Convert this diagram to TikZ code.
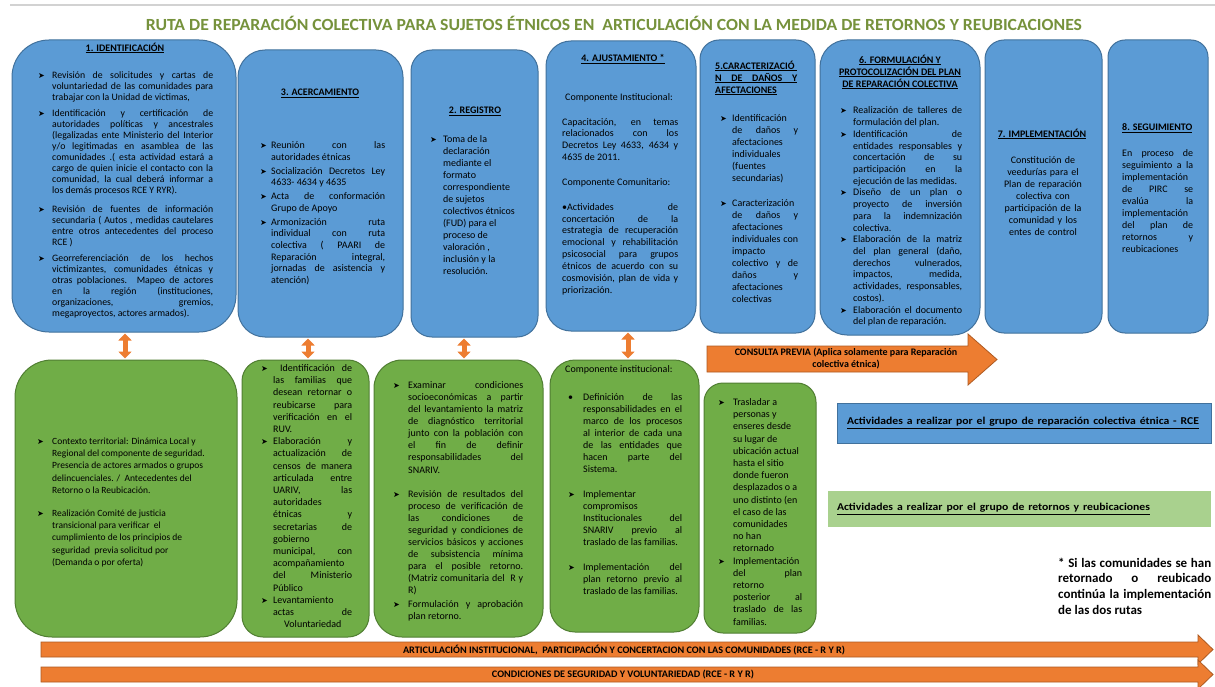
\documentclass[tikz,border=0pt]{standalone}
\usepackage{fontspec}
\usepackage{graphicx}
\setmainfont{Carlito}
\newfontfamily\dvfont{DejaVu Sans}
\usetikzlibrary{fit,arrows.meta}
\definecolor{blueF}{RGB}{91,155,213}
\definecolor{blueD}{RGB}{65,113,156}
\definecolor{greenF}{RGB}{112,173,71}
\definecolor{greenD}{RGB}{80,126,50}
\definecolor{orangeF}{RGB}{237,125,49}
\definecolor{orangeD}{RGB}{174,90,33}
\definecolor{lgreen}{RGB}{169,209,142}
\definecolor{titleG}{RGB}{118,146,60}
\newlength\bulind
\newcommand\brk{\linebreak}
\newcommand\strt{\rule{0pt}{9pt}}
\newcommand\pstart{\noindent\strt}
\newcommand\ulin[1]{\underline{#1}}
\newcommand\mkbul[2]{\par\vspace{#2}\noindent\hangindent=\bulind\hangafter=1\makebox[\bulind][l]{\strt#1}\ignorespaces}
\newcommand\bul[1][0pt]{\mkbul{{\dvfont\fontsize{8}{8}\selectfont ➤}}{#1}}
\newcommand\dotbul[1][0pt]{\mkbul{•}{#1}}
\AtBeginDocument{\tolerance=10000 \hbadness=10000 \hfuzz=6pt \hyphenpenalty=10000 \exhyphenpenalty=10000}
\begin{document}
\begin{tikzpicture}[x=1pt,y=-1pt,
  bluebox/.style={draw=blueD,fill=blueF,line width=1pt,inner sep=0pt},
  greenbox/.style={draw=greenD,fill=greenF,line width=1pt,inner sep=0pt},
  txt/.style={anchor=north west,inner sep=0pt,align=justify,font=\fontsize{10}{11}\selectfont},
  hd/.style={inner sep=0pt,font=\fontsize{10}{12}\selectfont\bfseries},
  dbl/.style={draw=orangeF,line width=5pt,{Triangle[width=13pt,length=7pt]}-{Triangle[width=13pt,length=7pt]},shorten <=1pt,shorten >=1pt},
  blockarrow/.style={draw=orangeD,fill=orangeF,line width=0.8pt},
  legbox/.style={inner ysep=0pt,line width=0.8pt,align=left,font=\fontsize{10.5}{12}\selectfont\bfseries},
]
\useasboundingbox (0,0) rectangle (1215,687);
\fill[white] (0,0) rectangle (1215,687);
\draw[gray!35,line width=1.5pt] (10,5) -- (1215,5);
\node[text=titleG,font=\fontsize{17}{17}\selectfont\bfseries,inner sep=0pt] (title) at (614,23) {\resizebox{936pt}{\height}{RUTA DE REPARACIÓN COLECTIVA PARA SUJETOS ÉTNICOS EN\ \ ARTICULACIÓN CON LA MEDIDA DE RETORNOS Y REUBICACIONES}};

% ---------- top blue boxes
\node[bluebox,rounded corners=37pt,fit={(12,40)(236,332)}] (b1) {};
\node[bluebox,rounded corners=27pt,fit={(238,50)(403,337)}] (b3) {};
\node[bluebox,rounded corners=21pt,fit={(411,50)(538,337)}] (b2) {};
\node[bluebox,rounded corners=25pt,fit={(546,41)(696,331)}] (b4) {};
\node[bluebox,rounded corners=19pt,fit={(700,40)(815,333)}] (b5) {};
\node[bluebox,rounded corners=27pt,fit={(820,40)(980,335)}] (b6) {};
\node[bluebox,rounded corners=19pt,fit={(985,40)(1102,333)}] (b7) {};
\node[bluebox,rounded corners=17pt,fit={(1108,40)(1208,333)}] (b8) {};

% ---------- bottom green boxes
\node[greenbox,rounded corners=37pt,fit={(15,360)(237,637)}] (g1) {};
\node[greenbox,rounded corners=21pt,fit={(242,360)(369,637)}] (g2) {};
\node[greenbox,rounded corners=28pt,fit={(374,360)(543,637)}] (g3) {};
\node[greenbox,rounded corners=25pt,fit={(550,360)(699,632)}] (g4) {};
\node[greenbox,rounded corners=19pt,fit={(704,383)(816,633)}] (g5) {};

% ---------- double arrows
\draw[dbl] (b1.south -| 125,0) -- (g1.north -| 125,0);
\draw[dbl] (b3.south -| 308,0) -- (g2.north -| 308,0);
\draw[dbl] (b2.south -| 464,0) -- (g3.north -| 464,0);
\draw[dbl] (b4.south -| 628,0) -- (g4.north -| 628,0);

% ---------- consulta previa arrow
\draw[blockarrow] (707,346) -- (968,346) -- (968,334) -- (997,359.5) -- (968,385) -- (968,372) -- (707,372) -- cycle;
\node[hd,align=center] (cp) at (846,359) {CONSULTA PREVIA (Aplica solamente para Reparación\\colectiva étnica)};

% ---------- bottom arrows
\draw[blockarrow] (41,642) -- (1198,642) -- (1198,635) -- (1213,649.5) -- (1198,664) -- (1198,657) -- (41,657) -- cycle;
\draw[blockarrow] (41,667) -- (1198,667) -- (1198,660) -- (1213,674.5) -- (1198,689) -- (1198,682) -- (41,682) -- cycle;
\node[inner sep=0pt,font=\fontsize{10}{10}\selectfont\bfseries] (ar1) at (624,650) {\resizebox{442pt}{\height}{ARTICULACIÓN INSTITUCIONAL,\ \ PARTICIPACIÓN Y CONCERTACION CON LAS COMUNIDADES (RCE - R Y R)}};
\node[inner sep=0pt,font=\fontsize{10}{10}\selectfont\bfseries] (ar2) at (623,675) {\resizebox{262pt}{\height}{CONDICIONES DE SEGURIDAD Y VOLUNTARIEDAD (RCE - R Y R)}};

% ---------- B1
\node[hd] (h1) at (125,48) {\ulin{1. IDENTIFICACIÓN}};
\node[txt,text width=175pt,font=\fontsize{9.8}{11}\selectfont] (t1) at (38,67) {\setlength\bulind{14pt}%
\bul Revisión de solicitudes y cartas de\brk voluntariedad de las comunidades para\brk trabajar con la Unidad de victimas,
\bul[5pt] Identificación y certificación de\brk autoridades políticas y ancestrales\brk (legalizadas ente Ministerio del Interior\brk y/o legitimadas en asamblea de las\brk comunidades .( esta actividad estará a\brk cargo de quien inicie el contacto con la\brk comunidad, la cual deberá informar a\brk los demás procesos RCE Y RYR).
\bul[8pt] Revisión de fuentes de información\brk secundaria ( Autos , medidas cautelares\brk entre otros antecedentes del proceso\brk RCE )
\bul[5pt] Georreferenciación de los hechos\brk victimizantes, comunidades étnicas y\brk otras poblaciones. Mapeo de actores\brk en la región (instituciones,\brk organizaciones, gremios,\brk megaproyectos, actores armados).\par};

% ---------- B3
\node[hd] (h3) at (320,93) {\ulin{3. ACERCAMIENTO}};
\node[txt,text width=125pt,font=\fontsize{10}{11.7}\selectfont] (t3) at (260,137) {\setlength\bulind{11pt}%
\bul Reunión con las\brk autoridades étnicas
\bul[2pt] Socialización Decretos Ley\brk 4633- 4634 y 4635
\bul[2pt] Acta de conformación\brk Grupo de Apoyo
\bul[2pt] Armonización ruta\brk individual con ruta\brk colectiva ( PAARI de\brk Reparación integral,\brk jornadas de asistencia y\brk atención)\par};

% ---------- B2
\node[hd] (h2) at (475,111) {\ulin{2. REGISTRO}};
\node[txt,text width=92pt,font=\fontsize{10}{12}\selectfont] (t2) at (430,130) {\setlength\bulind{13pt}%
\bul Toma de la\newline declaración\newline mediante el\newline formato\newline correspondiente\newline de sujetos\newline colectivos étnicos\newline (FUD) para el\newline proceso de\newline valoración ,\newline inclusión y la\newline resolución.\par};

% ---------- B4
\node[hd] (h4) at (623,59) {\ulin{4. AJUSTAMIENTO *}};
\node[inner sep=0pt,font=\fontsize{10}{12}\selectfont] (t4a) at (619,98) {Componente Institucional:};
\node[txt,text width=116pt,font=\fontsize{10}{11.7}\selectfont] (t4b) at (562,116) {\pstart Capacitación, en temas\brk relacionados con los\brk Decretos Ley 4633, 4634 y\brk 4635 de 2011.\par};
\node[inner sep=0pt,anchor=west,font=\fontsize{10}{12}\selectfont] (t4c) at (562,183) {Componente Comunitario:};
\node[txt,text width=116pt,font=\fontsize{10}{11.86}\selectfont] (t4d) at (562,201) {\pstart •Actividades de\brk concertación de la\brk estrategia de recuperación\brk emocional y rehabilitación\brk psicosocial para grupos\brk étnicos de acuerdo con su\brk cosmovisión, plan de vida y\brk priorización.\par};

% ---------- B5
\node[hd,anchor=north west,align=left] (h5) at (715,60) {\strt\ulin{\makebox[82pt][l]{5.CARACTERIZACIÓ}}\\\ulin{\makebox[82pt][s]{N DE DAÑOS Y}}\\\ulin{AFECTACIONES}};
\node[txt,text width=78pt,font=\fontsize{10}{12}\selectfont] (t5) at (720,109) {\setlength\bulind{12pt}%
\bul Identificación\brk de daños y\brk afectaciones\brk individuales\brk (fuentes\brk secundarias)
\bul[13pt] Caracterización\brk de daños y\brk afectaciones\brk individuales con\brk impacto\brk colectivo y de\brk daños y\brk afectaciones\brk colectivas\par};

% ---------- B6
\node[hd,anchor=north,align=center] (h6) at (900,54) {\strt\ulin{6. FORMULACIÓN Y}\\\ulin{PROTOCOLIZACIÓN DEL PLAN}\\\ulin{DE REPARACIÓN COLECTIVA}};
\node[txt,text width=122pt,font=\fontsize{10}{11.72}\selectfont] (t6) at (840,102) {\setlength\bulind{13pt}%
\bul Realización de talleres de\brk formulación del plan.
\bul Identificación de\brk entidades responsables y\brk concertación de su\brk participación en la\brk ejecución de las medidas.
\bul Diseño de un plan o\brk proyecto de inversión\brk para la indemnización\brk colectiva.
\bul Elaboración de la matriz\brk del plan general (daño,\brk derechos vulnerados,\brk impactos, medida,\brk actividades, responsables,\brk costos).
\bul Elaboración el documento\brk del plan de reparación.\par};

% ---------- B7
\node[hd] (h7) at (1042,134) {\ulin{7. IMPLEMENTACIÓN}};
\node[txt,anchor=north,align=center,text width=110pt,font=\fontsize{10}{12}\selectfont] (t7) at (1043,154) {\strt Constitución de\\veedurías para el\\Plan de reparación\\colectiva con\\participación de la\\comunidad y los\\entes de control};

% ---------- B8
\node[hd,anchor=west] (h8) at (1122,128) {\ulin{8. SEGUIMIENTO}};
\node[txt,text width=71pt,font=\fontsize{10}{12.1}\selectfont] (t8) at (1122,147) {\pstart En proceso de\brk seguimiento a la\brk implementación\brk de PIRC se\brk evalúa la\brk implementación\brk del plan de\brk retornos y\brk reubicaciones\par};

% ---------- G1
\node[txt,text width=180pt,font=\fontsize{9.5}{12.2}\selectfont] (t9) at (37,432) {\setlength\bulind{15pt}%
\bul Contexto territorial: Dinámica Local y\newline Regional del componente de seguridad.\newline Presencia de actores armados o grupos\newline delincuenciales. / \ Antecedentes del\newline Retorno o la Reubicación.
\bul[11pt] Realización Comité de justicia\newline transicional para verificar \ el\newline cumplimiento de los principios de\newline seguridad \ previa solicitud por\newline (Demanda o por oferta)\par};

% ---------- G2
\node[txt,text width=91pt,font=\fontsize{10}{12.2}\selectfont] (t10) at (261,359) {\setlength\bulind{12pt}%
\bul \ Identificación de\brk las familias que\brk desean retornar o\brk reubicarse para\brk verificación en el\brk RUV.
\bul Elaboración y\brk actualización de\brk censos de manera\brk articulada entre\brk UARIV, las\brk autoridades\brk étnicas y\brk secretarias de\brk gobierno\brk municipal, con\brk acompañamiento\brk del Ministerio\brk Público
\bul Levantamiento\brk actas de\brk \hspace*{11pt}Voluntariedad\par};

% ---------- G3
\node[txt,text width=130pt,font=\fontsize{10}{12.1}\selectfont] (t11) at (393,376) {\setlength\bulind{15pt}%
\bul Examinar condiciones\brk socioeconómicas a partir\brk del levantamiento la matriz\brk de diagnóstico territorial\brk junto con la población con\brk el fin de definir\brk responsabilidades del\brk SNARIV.
\bul[12pt] Revisión de resultados del\brk proceso de verificación de\brk las condiciones de\brk seguridad y condiciones de\brk servicios básicos y acciones\brk de subsistencia mínima\brk para el posible retorno.\brk (Matriz comunitaria del \ R y\brk R)
\bul[1pt] Formulación y aprobación\brk plan retorno.\par};

% ---------- G4
\node[inner sep=0pt,anchor=west,font=\fontsize{10}{12}\selectfont] (t12a) at (565,370) {Componente institucional:};
\node[txt,text width=114pt,font=\fontsize{10}{12.1}\selectfont] (t12) at (568,388) {\setlength\bulind{15pt}%
\dotbul Definición de las\brk responsabilidades en el\brk marco de los procesos\brk al interior de cada una\brk de las entidades que\brk hacen parte del\brk Sistema.
\bul[12pt] Implementar\brk compromisos\brk Institucionales del\brk SNARIV previo al\brk traslado de las familias.
\bul[13pt] Implementación del\brk plan retorno previo al\brk traslado de las familias.\par};

% ---------- G5
\node[txt,text width=84pt,font=\fontsize{10}{12.2}\selectfont] (t13) at (718,393) {\setlength\bulind{15pt}%
\bul Trasladar a\newline personas y\newline enseres desde\newline su lugar de\newline ubicación actual\newline hasta el sitio\newline donde fueron\newline desplazados o a\newline uno distinto (en\newline el caso de las\newline comunidades\newline no han\newline retornado
\bul Implementación\brk del plan\brk retorno\brk posterior al\brk traslado de las\brk familias.\par};

% ---------- legend
\node[legbox,fill=blueF,draw=blueD,minimum width=374pt,minimum height=40pt,inner xsep=10pt,text width=354pt] (leg1) at (1024,423) {\resizebox{352pt}{\height}{\ulin{Actividades a realizar por el grupo de reparación colectiva étnica - RCE}}};
\node[legbox,fill=lgreen,minimum width=383pt,minimum height=36pt,inner xsep=9pt,text width=365pt] (leg2) at (1019.5,509) {\resizebox{313pt}{\height}{\ulin{Actividades a realizar por el grupo de retornos y reubicaciones}}};

% ---------- note
\node[txt,text width=153pt,font=\fontsize{13}{15.7}\selectfont\bfseries] (note) at (1058,556) {\noindent\rule{0pt}{11pt}* Si las comunidades se han\brk retornado o reubicado\brk continúa la implementación\brk de las dos rutas\par};
\end{tikzpicture}
\end{document}
